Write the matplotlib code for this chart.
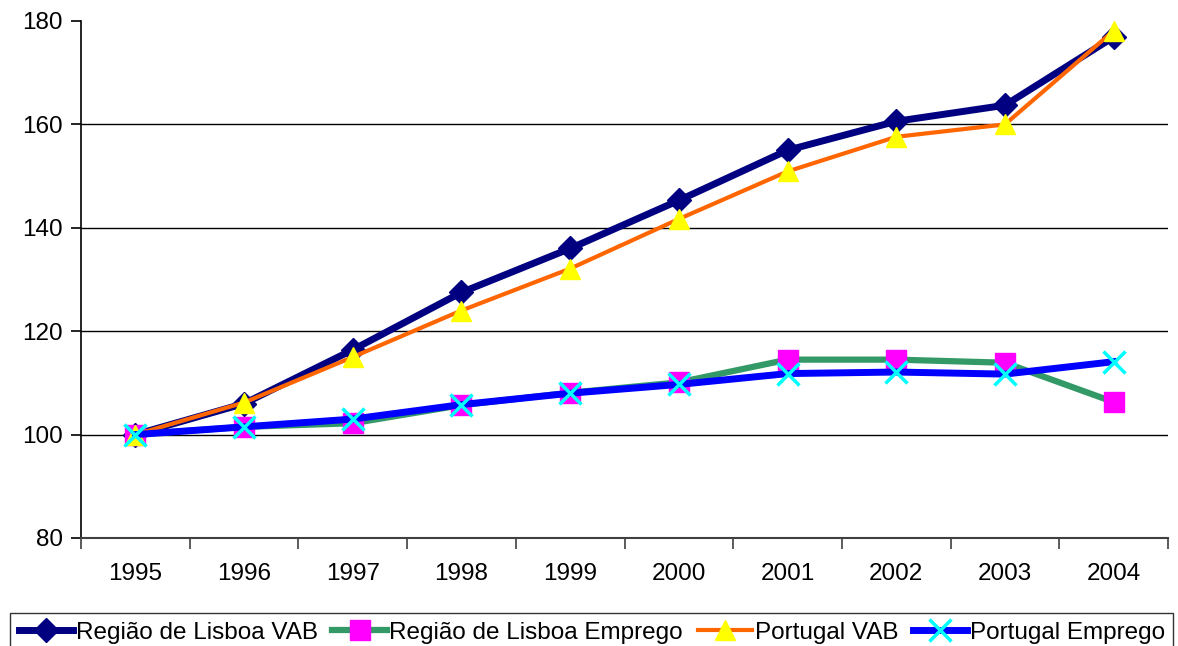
import matplotlib.pyplot as plt
import numpy as np

plt.rcParams['font.family'] = ['Liberation Sans', 'DejaVu Sans']

years = ['1995', '1996', '1997', '1998', '1999', '2000', '2001', '2002', '2003', '2004']
lisboa_vab = [100, 106.0, 116.4, 127.5, 136.0, 145.3, 155.0, 160.6, 163.7, 176.9]
lisboa_emprego = [100, 101.5, 102.2, 105.7, 108.1, 110.1, 114.5, 114.5, 113.9, 106.3]
portugal_vab = [100, 106.2, 115.0, 124.0, 132.1, 141.7, 150.9, 157.6, 160.0, 178.1]
portugal_emprego = [100, 101.5, 103.0, 105.8, 108.0, 109.7, 111.8, 112.1, 111.7, 114.1]

x = np.arange(len(years))

fig = plt.figure(figsize=(11.78, 6.46), dpi=100)
ax = fig.add_axes([0.0688, 0.1672, 0.9227, 0.8003])

ax.plot(x, lisboa_vab, color='#000080', lw=5, marker='D', ms=12,
        mfc='#000080', mec='#000080', label='Região de Lisboa VAB', zorder=3)
ax.plot(x, lisboa_emprego, color='#339966', lw=4.5, marker='s', ms=15,
        mfc='#FF00FF', mec='#FF00FF', label='Região de Lisboa Emprego', zorder=4)
ax.plot(x, portugal_vab, color='#FF6600', lw=3, marker='^', ms=14,
        mfc='#FFFF00', mec='#FFFF00', label='Portugal VAB', zorder=5)
ax.plot(x, portugal_emprego, color='#0000FF', lw=5, marker='x', ms=16,
        mew=2.5, mec='#00FFFF', label='Portugal Emprego', zorder=6)

ax.set_ylim(80, 180)
ax.set_yticks(np.arange(80, 181, 20))
ax.set_xlim(-0.5, len(years) - 0.5)
ax.set_xticks(x)
ax.set_xticklabels(years)
ax.set_xticks(np.arange(-0.5, len(years)), minor=True)
ax.tick_params(axis='x', which='major', length=0, pad=18, labelsize=17.5)
ax.tick_params(axis='x', which='minor', length=8, width=1.2, color='#404040')
ax.tick_params(axis='y', length=7, width=1.2, labelsize=17.5, pad=6)

for yv in [100, 120, 140, 160]:
    ax.axhline(yv, color='black', lw=1, zorder=1)

ax.spines['top'].set_visible(False)
ax.spines['right'].set_visible(False)
ax.spines['left'].set_linewidth(1.2)
ax.spines['bottom'].set_color('#404040')
ax.spines['bottom'].set_linewidth(1.5)

leg = fig.legend(loc='upper left', bbox_to_anchor=(0.0085, 0.051), ncol=4,
                 fontsize=17.5, numpoints=1, handlelength=2.25, handletextpad=0.1,
                 columnspacing=0.6, borderpad=0.35, borderaxespad=0,
                 frameon=True, fancybox=False, edgecolor='black')
leg.get_frame().set_linewidth(1)

fig.savefig('out.png', dpi=100)
